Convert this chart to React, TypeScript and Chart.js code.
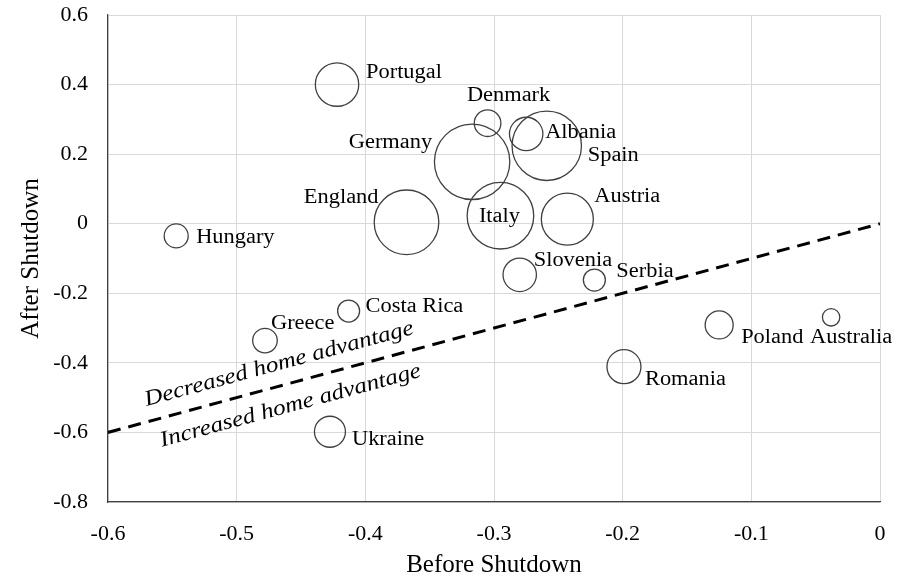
import React, { useEffect, useRef } from 'react';
import { Chart, registerables } from 'chart.js';

Chart.register(...registerables);

// ---------- data ----------
const countries = [
  'Portugal', 'Denmark', 'Albania', 'Spain', 'Germany', 'England', 'Italy', 'Austria',
  'Slovenia', 'Serbia', 'Poland', 'Australia', 'Romania', 'Greece', 'Costa Rica', 'Ukraine', 'Hungary',
];
const beforeShutdown = [
  -0.422, -0.305, -0.275, -0.259, -0.317, -0.368, -0.295, -0.243,
  -0.280, -0.222, -0.125, -0.038, -0.199, -0.478, -0.413, -0.4275, -0.547,
];
const afterShutdown = [
  0.400, 0.289, 0.258, 0.224, 0.178, 0.004, 0.023, 0.013,
  -0.147, -0.162, -0.291, -0.269, -0.411, -0.336, -0.251, -0.598, -0.035,
];
const bubbleRadius = [
  21.7, 13.3, 16.7, 34.7, 37.7, 32.3, 33.3, 26,
  16.7, 11, 14, 8.7, 17, 12.3, 11, 15.5, 12,
];
const parityX = [-0.6, 0];
const parityY = [-0.6, 0];
const regionLabels = ['Decreased home advantage', 'Increased home advantage'];
const regionLabelX = [-0.570, -0.558];
const regionLabelY = [-0.524, -0.641];

const xTitle = 'Before Shutdown';
const yTitle = 'After Shutdown';

// ---------- label placement (pixel offsets from bubble centre) ----------
const placement: Record<string, { dx: number; dy: number; align: CanvasTextAlign }> = {
  Portugal: { dx: 29, dy: -7, align: 'left' },
  Denmark: { dx: 21, dy: -22, align: 'center' },
  Albania: { dx: 19, dy: 4, align: 'left' },
  Spain: { dx: 41, dy: 15, align: 'left' },
  Germany: { dx: -40, dy: -14, align: 'right' },
  England: { dx: -28, dy: -19, align: 'right' },
  Italy: { dx: -1, dy: 6, align: 'center' },
  Austria: { dx: 27, dy: -17, align: 'left' },
  Slovenia: { dx: 14, dy: -9, align: 'left' },
  Serbia: { dx: 22, dy: -3, align: 'left' },
  Poland: { dx: 22, dy: 18, align: 'left' },
  Australia: { dx: -21, dy: 26, align: 'left' },
  Romania: { dx: 21, dy: 18, align: 'left' },
  Greece: { dx: 6, dy: -12, align: 'left' },
  'Costa Rica': { dx: 17, dy: 1, align: 'left' },
  Ukraine: { dx: 22, dy: 13, align: 'left' },
  Hungary: { dx: 20, dy: 7, align: 'left' },
};

const FONT = '"Liberation Serif", "Times New Roman", serif';
const STRETCH = 1.12;

const labelPlugin = {
  id: 'countryLabels',
  afterDatasetsDraw(chart: any) {
    const ctx: CanvasRenderingContext2D = chart.ctx;
    const meta = chart.getDatasetMeta(0);
    ctx.save();
    ctx.fillStyle = '#000';
    ctx.textBaseline = 'alphabetic';
    ctx.font = `20px ${FONT}`;
    meta.data.forEach((el: any, i: number) => {
      const p = placement[countries[i]] || { dx: 15, dy: 0, align: 'left' };
      ctx.save();
      ctx.translate(el.x + p.dx, el.y + p.dy);
      ctx.scale(STRETCH, 1);
      ctx.textAlign = p.align;
      ctx.fillText(countries[i], 0, 0);
      ctx.restore();
    });

    const xs = chart.scales.x;
    const ys = chart.scales.y;
    const ang = Math.atan2(
      ys.getPixelForValue(parityY[1]) - ys.getPixelForValue(parityY[0]),
      xs.getPixelForValue(parityX[1]) - xs.getPixelForValue(parityX[0])
    );
    ctx.font = `italic 22px ${FONT}`;
    ctx.textAlign = 'left';
    regionLabels.forEach((t, i) => {
      ctx.save();
      ctx.translate(xs.getPixelForValue(regionLabelX[i]), ys.getPixelForValue(regionLabelY[i]));
      ctx.rotate(ang);
      ctx.scale(1.14, 1);
      ctx.fillText(t, 0, 0);
      ctx.restore();
    });
    ctx.restore();
  },
};

const fmt = (v: any) => {
  const n = Math.round(Number(v) * 10) / 10;
  return n === 0 ? '0' : String(n);
};

export default function App() {
  const ref = useRef<HTMLCanvasElement | null>(null);

  useEffect(() => {
    if (!ref.current) return;
    Chart.defaults.font.family = FONT;
    const bubbles = countries.map((_, i) => ({ x: beforeShutdown[i], y: afterShutdown[i], r: bubbleRadius[i] }));
    const line = parityX.map((x, i) => ({ x, y: parityY[i] }));

    const chart = new Chart(ref.current, {
      type: 'bubble',
      data: {
        datasets: [
          {
            type: 'bubble',
            label: 'Leagues',
            data: bubbles,
            backgroundColor: 'rgba(0,0,0,0)',
            borderColor: '#404040',
            borderWidth: 1.3,
            hoverRadius: 0,
            clip: false,
          } as any,
          {
            type: 'line',
            label: 'Equal',
            data: line,
            borderColor: '#000',
            borderWidth: 3,
            borderDash: [13, 8],
            pointRadius: 0,
            fill: false,
          } as any,
        ],
      },
      options: {
        responsive: false,
        animation: false,
        devicePixelRatio: 1,
        layout: { autoPadding: false, padding: { top: 15, right: 25, bottom: 0, left: 0 } },
        plugins: { legend: { display: false }, tooltip: { enabled: false } },
        events: [],
        scales: {
          x: {
            type: 'linear',
            min: -0.6,
            max: 0,
            ticks: { stepSize: 0.1, callback: fmt, color: '#000', font: { size: 22, family: FONT }, padding: 19, maxRotation: 0 },
            grid: { color: '#d9d9d9', drawTicks: false, lineWidth: 1 },
            border: { color: '#404040', width: 1.2 },
            title: { display: true, text: xTitle, color: '#000', font: { size: 25, family: FONT }, padding: { top: 0, bottom: 0 } },
            afterFit: (s: any) => { s.height = 78; s.paddingLeft = 0; s.paddingRight = 0; },
          },
          y: {
            type: 'linear',
            min: -0.8,
            max: 0.6,
            ticks: { stepSize: 0.2, callback: fmt, color: '#000', font: { size: 22, family: FONT }, padding: 20 },
            grid: { color: '#d9d9d9', drawTicks: false, lineWidth: 1 },
            border: { color: '#404040', width: 1.2 },
            title: { display: true, text: yTitle, color: '#000', font: { size: 25, family: FONT }, padding: { top: 16, bottom: 0 } },
            afterFit: (s: any) => { s.width = 108; s.paddingTop = 0; s.paddingBottom = 0; },
          },
        },
      },
      plugins: [labelPlugin],
    } as any);
    return () => chart.destroy();
  }, []);

  return (
    <div style={{ position: 'fixed', left: 0, top: 0, width: 905, height: 580, background: '#fff' }}>
      <canvas ref={ref} width={905} height={580} style={{ display: 'block' }} />
    </div>
  );
}
